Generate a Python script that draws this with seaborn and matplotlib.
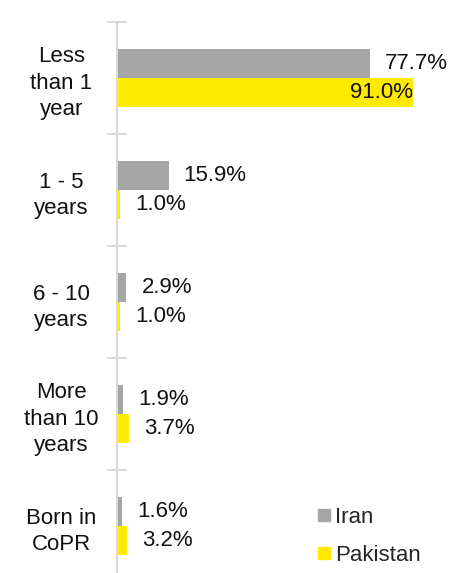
import matplotlib
matplotlib.use("Agg")
import matplotlib.pyplot as plt
import seaborn as sns
import pandas as pd
from matplotlib.lines import Line2D

categories = ["Less\nthan 1\nyear", "1 - 5\nyears", "6 - 10\nyears", "More\nthan 10\nyears", "Born in\nCoPR"]
iran = [77.7, 15.9, 2.9, 1.9, 1.6]
pakistan = [91.0, 1.0, 1.0, 3.7, 3.2]
series = ["Iran", "Pakistan"]
colors = {"Iran": "#A5A5A5", "Pakistan": "#FFEB00"}

df = pd.DataFrame({
    "Category": categories * 2,
    "Value": iran + pakistan,
    "Country": ["Iran"] * len(categories) + ["Pakistan"] * len(categories),
})

sns.set_style("white")
plt.rcParams["font.family"] = ["Liberation Sans", "DejaVu Sans"]
FS = 16

fig = plt.figure(figsize=(4.6, 5.73), dpi=100)
ax = fig.add_axes([117 / 460, -9 / 573, (455 - 117) / 460, 560 / 573])

sns.barplot(data=df, x="Value", y="Category", hue="Country", order=categories,
            hue_order=series, palette=colors, orient="h", width=0.52,
            saturation=1, linewidth=0, ax=ax, legend=False)

ax.set_xlim(0, (455 - 117) / 3.25)
ax.set_ylim(len(categories) - 0.5, -0.5)
ax.set_xlabel("")
ax.set_ylabel("")
ax.set_xticks([])
for s in ["top", "right", "bottom"]:
    ax.spines[s].set_visible(False)
ax.spines["left"].set_color("#D9D9D9")
ax.spines["left"].set_linewidth(1.5)

ax.set_yticks(range(len(categories)))
ax.set_yticklabels(categories, fontsize=FS, ha="center", linespacing=1.34, color="#111111")
ax.tick_params(axis="y", which="major", left=True, length=0, pad=40)
ax.set_yticks([i - 0.5 for i in range(len(categories) + 1)], minor=True)
ax.tick_params(axis="y", which="minor", left=True, direction="inout", length=14,
               width=1.5, color="#D9D9D9")

for cont, vals in zip(ax.containers, [iran, pakistan]):
    for bar, v in zip(cont, vals):
        y = bar.get_y() + bar.get_height() / 2
        x = bar.get_width()
        if v > 85:
            ax.annotate(f"{v:.1f}%", (x, y), xytext=(0, 0), textcoords="offset pixels",
                        ha="right", va="center", fontsize=FS, color="#111111")
        else:
            ax.annotate(f"{v:.1f}%", (x, y), xytext=(15, 0), textcoords="offset pixels",
                        ha="left", va="center", fontsize=FS, color="#111111")

handles = [Line2D([0], [0], marker="s", linestyle="", markersize=8.6,
                  markerfacecolor=colors[s], markeredgecolor=colors[s]) for s in series]
fig.legend(handles, series, loc="upper left", bbox_to_anchor=(306 / 460, 1 - 496 / 573),
           frameon=False, fontsize=FS, handlelength=0.6, handletextpad=0.2,
           labelspacing=0.74, borderpad=0)

fig.savefig("out.png", dpi=100)
